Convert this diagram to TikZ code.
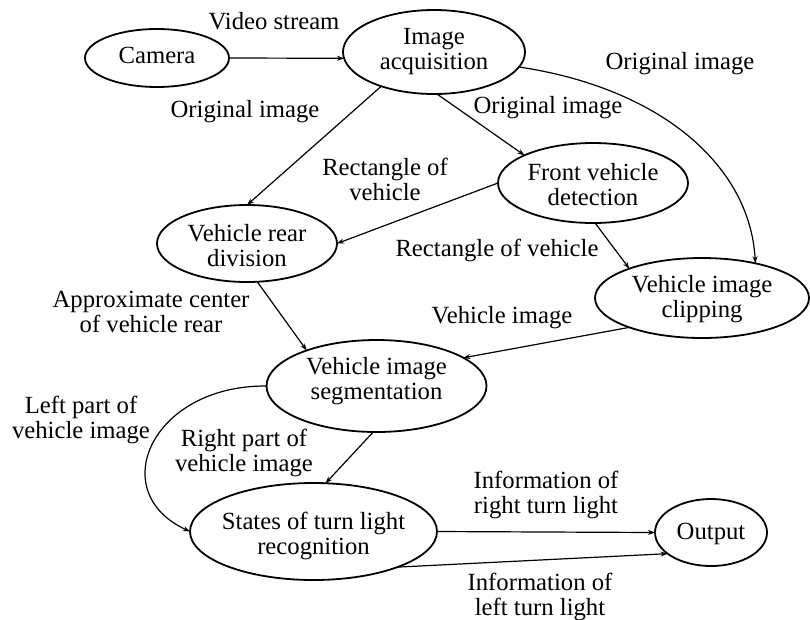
\documentclass[tikz,border=0pt]{standalone}
\usepackage{fontspec}
\setmainfont{Liberation Serif}
\usetikzlibrary{shapes.geometric,arrows.meta}
\newcommand\TwoL[2]{\strut#1\\\strut#2}
\begin{document}
\begin{tikzpicture}[x=1pt,y=-1pt,
  txt/.style={font=\fontsize{24.7}{25}\selectfont, align=center, inner sep=0pt},
  proc/.style={draw, ellipse, line width=1.8pt, inner sep=0pt, outer sep=0pt},
  conn/.style={line width=1.2pt, -{Stealth[length=7pt,width=5pt]}}]
\useasboundingbox (0,0) rectangle (810,619);

% processes
\node[proc, minimum width=144pt, minimum height=58pt,
      label={[txt]center:\strut Camera}] (cam) at (157,58) {};
\node[proc, minimum width=182pt, minimum height=84pt,
      label={[txt]center:{\TwoL{Image}{acquisition}}}] (ia) at (434,52) {};
\node[proc, minimum width=190pt, minimum height=80pt,
      label={[txt,yshift=-5pt]center:{\TwoL{Front vehicle}{detection}}}] (fvd) at (593,183) {};
\node[proc, minimum width=180pt, minimum height=77pt,
      label={[txt,yshift=-5pt]center:{\TwoL{Vehicle rear}{division}}}] (vr) at (247,243.5) {};
\node[proc, minimum width=214pt, minimum height=80pt,
      label={[txt,yshift=-2pt]center:{\TwoL{Vehicle image}{clipping}}}] (vic) at (702,298) {};
\node[proc, minimum width=220pt, minimum height=92pt,
      label={[txt,yshift=4pt]center:{\TwoL{Vehicle image}{segmentation}}}] (vis) at (376.5,386) {};
\node[proc, minimum width=247pt, minimum height=97pt,
      label={[txt,yshift=-5pt]center:{\TwoL{States of turn light}{recognition}}}] (sr) at (313.5,531.5) {};
\node[proc, minimum width=112pt, minimum height=67pt,
      label={[txt,yshift=-2pt]center:\strut Output}] (out) at (711,532.5) {};

% connectors
\draw[conn] (cam.east) -- (ia.184);
\draw[conn] (ia.213) -- (vr.north);
\draw[conn] (ia.274) -- (fvd.158);
\draw[conn] (ia.350) .. controls (660,88) and (750,165) .. (vic.33);
\draw[conn] (fvd.west) -- (vr.east);
\draw[conn] (fvd.273) -- (vic.158);
\draw[conn] (vr.285) -- (vis.153);
\draw[conn] (vic.202) -- (vis.18);
\draw[conn] (vis.266) -- (sr.76);
\draw[conn] (vis.west) .. controls (152,385) and (104,492) .. (sr.west);
\draw[conn] (sr.east) -- (out.west);
\draw[conn] (sr.337) -- (out.206);

% connector labels
\node[txt] (l1) at (274,24) {\strut Video stream};
\node[txt] (l2) at (245,112) {\strut Original image};
\node[txt] (l3) at (548,108) {\strut Original image};
\node[txt] (l4) at (680,64) {\strut Original image};
\node[txt] (l5) at (385,182.5) {\TwoL{Rectangle of}{vehicle}};
\node[txt] (l6) at (497,251) {\strut Rectangle of vehicle};
\node[txt] (l7) at (502,318) {\strut Vehicle image};
\node[txt] (l8) at (151,314.5) {\TwoL{Approximate center}{of vehicle rear}};
\node[txt] (l9) at (81,420.5) {\TwoL{Left part of}{vehicle image}};
\node[txt] (l10) at (244,454) {\TwoL{Right part of}{vehicle image}};
\node[txt] (l11) at (546,496) {\TwoL{Information of}{right turn light}};
\node[txt] (l12) at (540,597.5) {\TwoL{Information of}{left turn light}};
\end{tikzpicture}
\end{document}
